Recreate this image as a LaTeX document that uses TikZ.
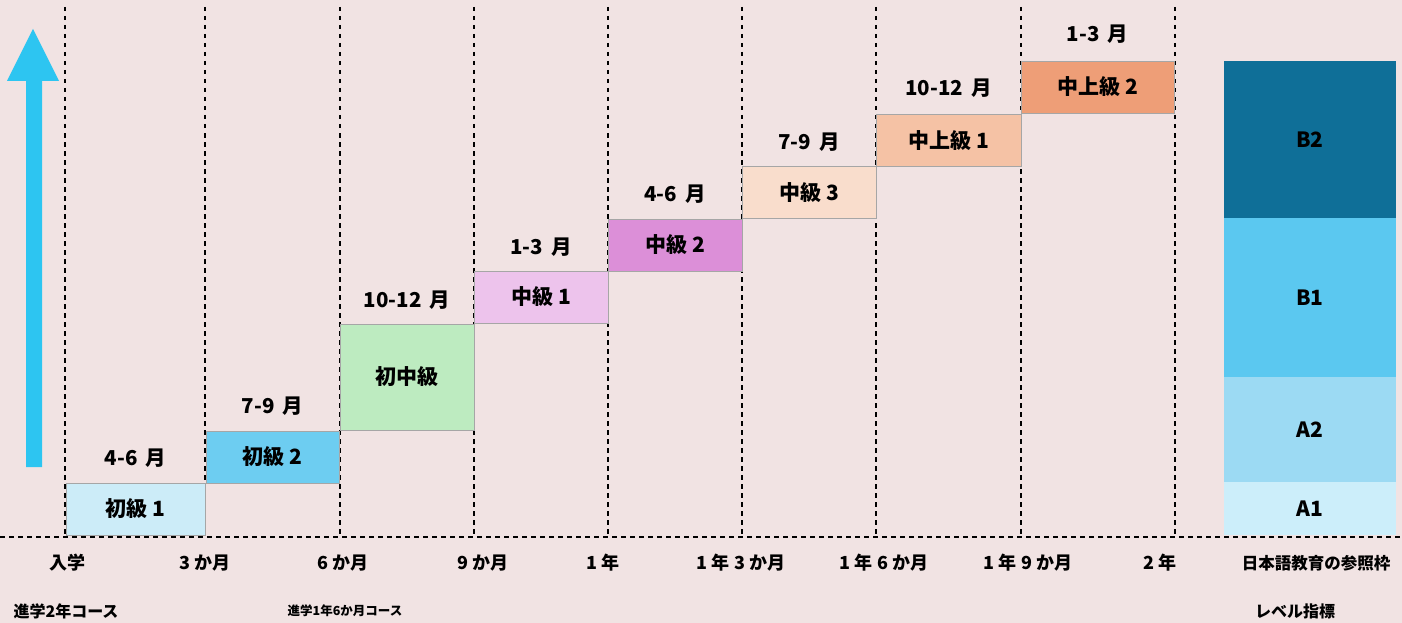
\documentclass[tikz,border=0pt]{standalone}
\usepackage{fontspec}
\setmainfont{Noto Sans CJK JP}
\definecolor{bgc}{HTML}{F1E3E3}
\definecolor{cB1}{HTML}{CCECF8}
\definecolor{cB2}{HTML}{6DCDF1}
\definecolor{cB3}{HTML}{BDEBC0}
\definecolor{cB4}{HTML}{EDC3EC}
\definecolor{cB5}{HTML}{DC8FD8}
\definecolor{cB6}{HTML}{F9DDCC}
\definecolor{cB7}{HTML}{F5C2A5}
\definecolor{cB8}{HTML}{EE9E77}
\definecolor{lvB2}{HTML}{0F6F98}
\definecolor{lvB1}{HTML}{5BC8F0}
\definecolor{lvA2}{HTML}{9CDAF3}
\definecolor{lvA1}{HTML}{CCEEFA}
\definecolor{arrc}{HTML}{2DC5F1}
\tikzset{
  grid/.style={draw=black, line width=1.3pt, dash pattern=on 4.5pt off 4.5pt},
  course/.style={draw=black!35, line width=0.6pt, minimum height=52pt, inner sep=0pt, font=\fontsize{21}{23}\selectfont\bfseries},
  mon/.style={inner sep=0pt, font=\fontsize{20.5}{22}\selectfont\bfseries},
  axl/.style={inner sep=0pt, font=\fontsize{18}{20}\selectfont\bfseries},
  lvl/.style={inner sep=0pt, minimum width=172pt, font=\fontsize{21}{23}\selectfont\bfseries},
}
\begin{document}
\begin{tikzpicture}[x=1pt,y=-1pt]
\fill[bgc] (0,0) rectangle (1402,623);
\useasboundingbox (0,0) rectangle (1402,623);
% grid coordinates
\foreach \n/\x in {g0/65,g1/205,g2/340,g3/474,g4/608,g5/742,g6/876,g7/1021,g8/1175}{
  \coordinate (\n t) at (\x,7);
  \coordinate (\n b) at (\x,537);
}
\coordinate (hl) at (0,537);
\coordinate (hr) at (1402,537);
\foreach \n in {g0,g1,g2,g3,g4,g5,g6,g7,g8}{\draw[grid] (\n t) -- (\n b);}
\draw[grid] (hl) -- (hr);
% arrow
\fill[arrc] (26,467) -- (26,81) -- (7,81) -- (33,29) -- (59,81) -- (42,81) -- (42,467) -- cycle;
% course boxes
\node[course, fill=cB1, minimum width=139pt] (c1) at (135.5,509) {初級 1};
\node[course, fill=cB2, minimum width=133pt] (c2) at (272.5,457) {初級 2};
\node[course, fill=cB3, minimum width=134pt, minimum height=106pt] (c3) at (407,377) {初中級};
\node[course, fill=cB4, minimum width=134pt] (c4) at (541,297) {中級 1};
\node[course, fill=cB5, minimum width=134pt] (c5) at (675,245) {中級 2};
\node[course, fill=cB6, minimum width=134pt] (c6) at (809,192.5) {中級 3};
\node[course, fill=cB7, minimum width=145pt] (c7) at (948.5,140.5) {中上級 1};
\node[course, fill=cB8, minimum width=153pt] (c8) at (1097.5,87) {中上級 2};
% month labels
\node[mon] (m1) at (135.5,458) {4-6 \,月};
\node[mon] (m2) at (272.5,406) {7-9 \,月};
\node[mon] (m3) at (407,300) {10-12 \,月};
\node[mon] (m4) at (541,247) {1-3 \,月};
\node[mon] (m5) at (675,194) {4-6 \,月};
\node[mon] (m6) at (809,142) {7-9 \,月};
\node[mon] (m7) at (948.5,88) {10-12 \,月};
\node[mon] (m8) at (1097.5,34) {1-3 \,月};
% level bar
\node[lvl, fill=lvB2, minimum height=157pt] (B2) at (1310,139.5) {B2};
\node[lvl, fill=lvB1, minimum height=159pt] (B1) at (1310,297.5) {B1};
\node[lvl, fill=lvA2, minimum height=105pt] (A2) at (1310,429.5) {A2};
\node[lvl, fill=lvA1, minimum height=53pt] (A1) at (1310,508.5) {A1};
% axis labels
\node[axl] (a0) at (67,563) {入学};
\node[axl] (a1) at (205,563) {3 か月};
\node[axl] (a2) at (343,563) {6 か月};
\node[axl] (a3) at (483,563) {9 か月};
\node[axl] (a4) at (603,563) {1 年};
\node[axl] (a5) at (741,563) {1 年 3 か月};
\node[axl] (a6) at (884,563) {1 年 6 か月};
\node[axl] (a7) at (1028,563) {1 年 9 か月};
\node[axl] (a8) at (1160,563) {2 年};
\node[axl, font=\fontsize{16.5}{18}\selectfont\bfseries] (a9) at (1316,563) {日本語教育の参照枠};
% bottom labels
\node[inner sep=0pt, font=\fontsize{16}{18}\selectfont\bfseries] (k1) at (66,611) {進学2年コース};
\node[inner sep=0pt, font=\fontsize{12.5}{14}\selectfont\bfseries] (k2) at (345,611) {進学1年6か月コース};
\node[inner sep=0pt, font=\fontsize{16}{18}\selectfont\bfseries] (k3) at (1295,611) {レベル指標};
\end{tikzpicture}
\end{document}
